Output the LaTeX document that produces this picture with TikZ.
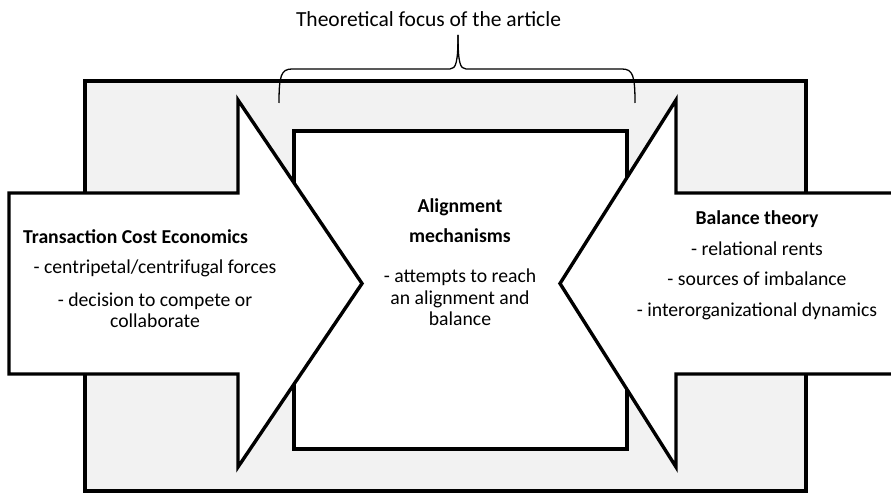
\documentclass[tikz,border=0pt]{standalone}
\usepackage{fontspec}
\setmainfont{Carlito}
\definecolor{focusgray}{RGB}{242,242,242}
\tikzset{
  shapeline/.style={line width=3.4pt, line join=miter},
  braceline/.style={line width=1.3pt},
  bodytext/.style={font=\fontsize{19.7}{23}\selectfont, anchor=base, inner sep=0pt},
  headtext/.style={bodytext, font=\fontsize{19.7}{23}\selectfont\bfseries},
}
\begin{document}
\begin{tikzpicture}[x=1pt,y=-1pt]
  \useasboundingbox (0,0) rectangle (891,494);
  \clip (0,0) rectangle (891,494);
  % frame and centre box
  \filldraw[shapeline,fill=focusgray] (85,81) rectangle (806,491);
  \filldraw[shapeline,fill=white] (294,131) rectangle (627,449);
  % the two theories
  \filldraw[shapeline,fill=white] (9,193)--(238,193)--(238,100)--(362,283.5)--(238,467)--(238,374)--(9,374)--cycle;
  \filldraw[shapeline,fill=white] (900,193)--(676,193)--(676,100)--(560,283.5)--(676,467)--(676,374)--(900,374)--cycle;
  % brace over the centre
  \draw[braceline] (279,103) .. controls (279,76) and (281,69) .. (292,69) -- (450,69)
    .. controls (456,69) and (458,62) .. (458,35);
  \draw[braceline] (635,103) .. controls (635,76) and (633,69) .. (622,69) -- (466,69)
    .. controls (460,69) and (458,62) .. (458,35);
  \node[bodytext,font=\fontsize{21.5}{26}\selectfont] (focus) at (428.5,27) {Theoretical focus of the article};
  % left arrow
  \node[headtext,anchor=base west] (tcehead) at (23,244) {Transaction Cost Economics};
  \node[bodytext] (tceone) at (155,273) {- centripetal/centrifugal forces};
  \node[bodytext] (tcetwo) at (155,306) {- decision to compete or};
  \node[bodytext] (tcethree) at (155,327) {collaborate};
  % centre box
  \node[headtext] (alhead) at (460,213) {Alignment};
  \node[headtext] (alheadtwo) at (460,243) {mechanisms};
  \node[bodytext] (alone) at (460,283) {- attempts to reach};
  \node[bodytext] (altwo) at (460,304) {an alignment and};
  \node[bodytext] (althree) at (460,325) {balance};
  % right arrow
  \node[headtext] (bthead) at (757,225) {Balance theory};
  \node[bodytext] (btone) at (757,255) {- relational rents};
  \node[bodytext] (bttwo) at (757,285) {- sources of imbalance};
  \node[bodytext] (btthree) at (757,316) {- interorganizational dynamics};
\end{tikzpicture}
\end{document}
